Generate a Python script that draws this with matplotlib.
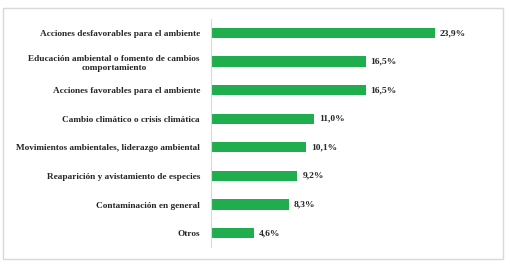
import matplotlib.pyplot as plt
from matplotlib.patches import Rectangle

# Categories and percentages
categories = ['Acciones desfavorables para el ambiente',
              'Educación ambiental o fomento de cambios\ncomportamiento',
              'Acciones favorables para el ambiente',
              'Cambio climático o crisis climática',
              'Movimientos ambientales, liderazgo ambiental',
              'Reaparición y avistamiento de especies',
              'Contaminación en general',
              'Otros']
values = [23.9, 16.5, 16.5, 11.0, 10.1, 9.2, 8.3, 4.6]
value_labels = ['23,9%', '16,5%', '16,5%', '11,0%', '10,1%', '9,2%', '8,3%', '4,6%']

plt.rcParams['font.family'] = ['Liberation Serif', 'DejaVu Serif']

fig = plt.figure(figsize=(5.11, 2.64), dpi=100)
fig.patches.append(Rectangle((3 / 511, 5 / 264), 500 / 511, 251 / 264, transform=fig.transFigure,
                             fill=False, edgecolor='#d9d9d9', linewidth=1))

ax = fig.add_axes([211 / 511, 0.063, 281 / 511, 0.866])
pos = range(len(categories))
ax.barh(pos, values, height=0.36, color='#20AD4E')

for i, (v, lab) in enumerate(zip(values, value_labels)):
    ax.text(v + 0.55, i, lab, va='center', ha='left', fontsize=6.8, fontweight='bold', color='#262626')

ax.set_xlim(0, 30)
ax.set_ylim(7.5, -0.5)
ax.set_yticks(list(pos))
ax.set_yticklabels(categories, fontsize=6.7, fontweight='bold', color='#262626')
for t in ax.get_yticklabels():
    t.set_multialignment('center')
ax.tick_params(axis='y', length=0, pad=8)
ax.set_xticks([])
for s in ['top', 'right', 'bottom']:
    ax.spines[s].set_visible(False)
ax.spines['left'].set_color('#d9d9d9')
ax.spines['left'].set_linewidth(0.8)

fig.savefig('out.png', dpi=100)
